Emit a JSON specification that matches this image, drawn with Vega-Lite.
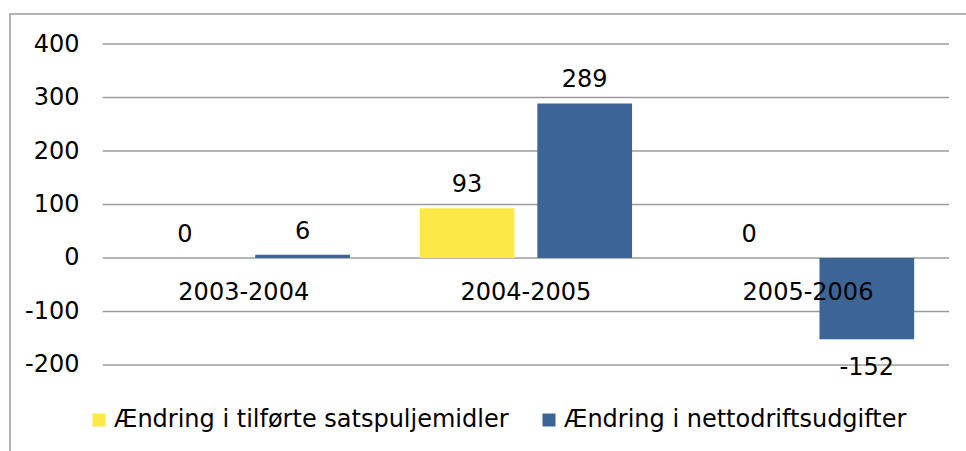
{
  "$schema": "https://vega.github.io/schema/vega-lite/v6.json",
  "width": 960,
  "height": 440,
  "autosize": "none",
  "padding": {"left": 10, "top": 14, "right": 0, "bottom": 0},
  "background": "white",
  "config": {
    "view": {"stroke": "#9c9c9c", "strokeWidth": 1.5},
    "font": "DejaVu Sans",
    "locale": {"number": {"decimal": ".", "thousands": ",", "grouping": [3], "currency": ["", ""], "minus": "-"}}
  },
  "datasets": {
    "bars": [
      {"period": "2003-2004", "series": "Ændring i tilførte satspuljemidler", "value": 0},
      {"period": "2003-2004", "series": "Ændring i nettodriftsudgifter", "value": 6},
      {"period": "2004-2005", "series": "Ændring i tilførte satspuljemidler", "value": 93},
      {"period": "2004-2005", "series": "Ændring i nettodriftsudgifter", "value": 289},
      {"period": "2005-2006", "series": "Ændring i tilførte satspuljemidler", "value": 0},
      {"period": "2005-2006", "series": "Ændring i nettodriftsudgifter", "value": -152}
    ],
    "grid": [
      {"v": -200, "a": "2003-2004", "b": "2005-2006"},
      {"v": -100, "a": "2003-2004", "b": "2005-2006"},
      {"v": 0, "a": "2003-2004", "b": "2005-2006"},
      {"v": 100, "a": "2003-2004", "b": "2005-2006"},
      {"v": 200, "a": "2003-2004", "b": "2005-2006"},
      {"v": 300, "a": "2003-2004", "b": "2005-2006"},
      {"v": 400, "a": "2003-2004", "b": "2005-2006"}
    ]
  },
  "layer": [
    {
      "data": {"name": "grid"},
      "mark": {"type": "rule", "color": "#9c9c9c", "strokeWidth": 1.6},
      "encoding": {
        "x": {"field": "a", "type": "nominal", "bandPosition": 0,
          "scale": {"domain": ["2003-2004", "2004-2005", "2005-2006"], "paddingInner": 0, "paddingOuter": 0.2014, "align": 0.8157},
          "axis": {"orient": "bottom", "offset": -196, "title": null, "ticks": false, "domain": false, "grid": false,
            "labelFont": "DejaVu Sans", "labelFontSize": 24, "labelColor": "#000000", "labelPadding": 22, "labelAngle": 0, "zindex": 2, "labelBaseline": "top"}},
        "x2": {"field": "b", "bandPosition": 1},
        "y": {"field": "v", "type": "quantitative",
          "scale": {"domain": [-366.4, 456.1], "nice": false, "zero": false},
          "axis": {"orient": "left", "offset": -93, "title": null, "ticks": false, "domain": false, "grid": false,
            "values": [-200, -100, 0, 100, 200, 300, 400],
            "labelFont": "DejaVu Sans", "labelFontSize": 24, "labelColor": "#000000", "labelPadding": 24}}
      }
    },
    {
      "data": {"name": "bars"},
      "mark": {"type": "bar"},
      "encoding": {
        "x": {"field": "period", "type": "nominal"},
        "xOffset": {"field": "series", "type": "nominal",
          "scale": {"domain": ["Ændring i tilførte satspuljemidler", "Ændring i nettodriftsudgifter"], "paddingInner": 0.195, "paddingOuter": 0.2966}},
        "y": {"field": "value", "type": "quantitative"},
        "color": {"field": "series", "type": "nominal",
          "scale": {"domain": ["Ændring i tilførte satspuljemidler", "Ændring i nettodriftsudgifter"], "range": ["#FAE946", "#3C6595"]},
          "legend": {"orient": "none", "legendX": 77, "legendY": 394, "direction": "horizontal", "title": null,
            "symbolType": "square", "symbolSize": 169, "symbolStrokeWidth": 0, "symbolOpacity": 1,
            "labelFont": "DejaVu Sans", "labelFontSize": 24, "labelColor": "#000000", "labelOffset": 3, "columnPadding": 28, "padding": 0, "labelLimit": 500}}
      }
    },
    {
      "data": {"name": "bars"},
      "transform": [{"filter": "datum.value >= 0"}],
      "mark": {"type": "text", "font": "DejaVu Sans", "fontSize": 24, "color": "#000000", "baseline": "alphabetic", "dy": -16},
      "encoding": {
        "x": {"field": "period", "type": "nominal"},
        "xOffset": {"field": "series", "type": "nominal"},
        "y": {"field": "value", "type": "quantitative"},
        "text": {"field": "value", "type": "quantitative"}
      }
    },
    {
      "data": {"name": "bars"},
      "transform": [{"filter": "datum.value < 0"}],
      "mark": {"type": "text", "font": "DejaVu Sans", "fontSize": 24, "color": "#000000", "baseline": "alphabetic", "dy": 36},
      "encoding": {
        "x": {"field": "period", "type": "nominal"},
        "xOffset": {"field": "series", "type": "nominal"},
        "y": {"field": "value", "type": "quantitative"},
        "text": {"field": "value", "type": "quantitative"}
      }
    }
  ]
}
